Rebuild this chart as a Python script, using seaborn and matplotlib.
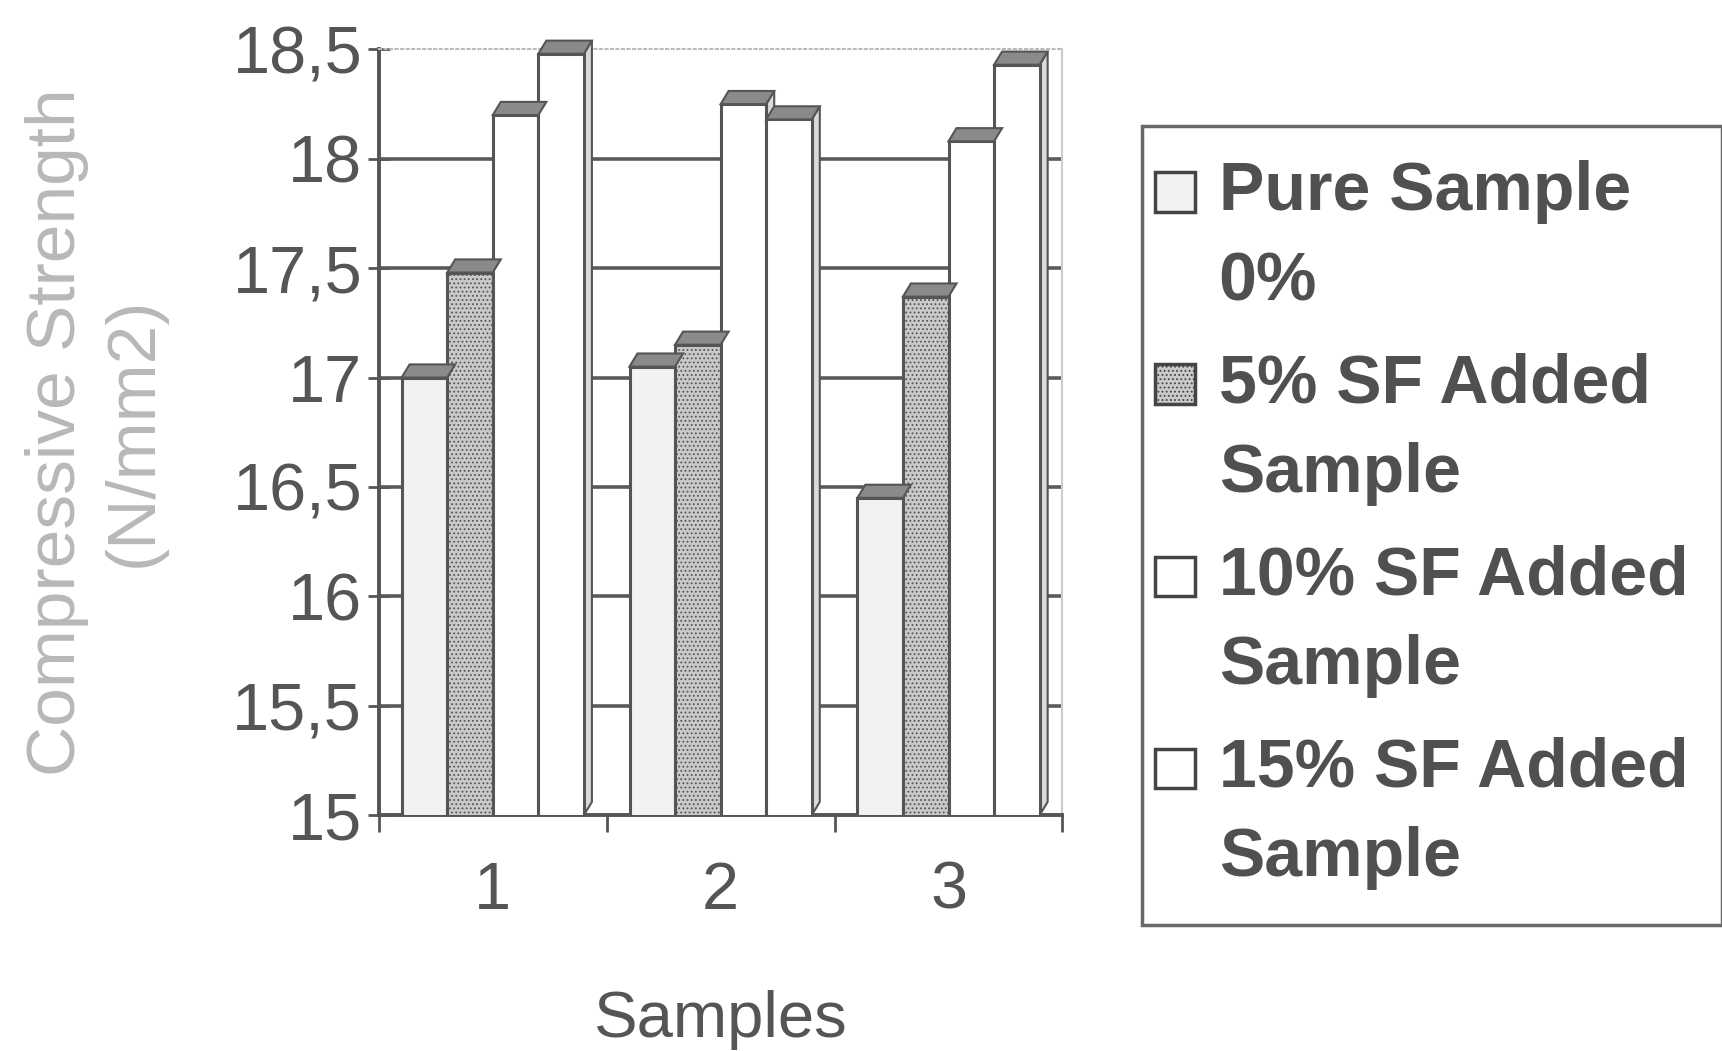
import matplotlib
matplotlib.use("Agg")
import matplotlib.pyplot as plt
import seaborn as sns
import pandas as pd
from matplotlib.patches import Polygon, Rectangle
from matplotlib.legend_handler import HandlerPatch
from matplotlib.ticker import FuncFormatter, FixedLocator

samples = ["1", "2", "3"]
series = ["Pure Sample\n0%", "5% SF Added\nSample", "10% SF Added\nSample", "15% SF Added\nSample"]
pure = [17.0, 17.05, 16.45]
sf5 = [17.48, 17.15, 17.37]
sf10 = [18.2, 18.25, 18.08]
sf15 = [18.48, 18.18, 18.43]
yticks = [15, 15.5, 16, 16.5, 17, 17.5, 18, 18.5]

values = [pure, sf5, sf10, sf15]
rows = []
for s, vals in zip(series, values):
    for c, v in zip(samples, vals):
        rows.append({"Sample": c, "Strength": v, "Series": s})
df = pd.DataFrame(rows)

sns.set_theme(style="white")
plt.rcParams["font.family"] = ["Liberation Sans", "DejaVu Sans"]
plt.rcParams["hatch.linewidth"] = 0.8

fig = plt.figure(figsize=(17.22, 10.51), dpi=100)
ax = fig.add_axes([0.22, 0.2245, 0.397, 0.7285])

face = ["#f2f2f2", "#c9c9c9", "#ffffff", "#ffffff"]
hatches = ["", "....", "", ""]
edge = "#555555"
sns.barplot(data=df, x="Sample", y="Strength", hue="Series", palette=face,
            edgecolor=edge, linewidth=2.2, width=0.8, ax=ax, zorder=3, legend=False)

nb = len(samples)
bars = list(ax.patches[: len(series) * nb])
for i, p in enumerate(bars):
    p.set_hatch(hatches[i // nb])

ax.set_ylim(15, 18.5)
ax.set_xlim(-0.5, 2.5)

# pseudo-3D caps and sides derived from the bar patches
dx, dy = 0.035, 0.06
for p in bars:
    x, w, top = p.get_x(), p.get_width(), p.get_height()
    topface = Polygon([(x, top), (x + w, top), (x + w + dx, top + dy), (x + dx, top + dy)],
                      closed=True, facecolor="#8a8a8a", edgecolor=edge, linewidth=1.5,
                      zorder=4, clip_on=False)
    side = Polygon([(x + w, 15), (x + w + dx, 15 + dy), (x + w + dx, top + dy), (x + w, top)],
                   closed=True, facecolor="#dadada", edgecolor=edge, linewidth=1.5,
                   zorder=2.9, clip_on=False)
    ax.add_patch(topface)
    ax.add_patch(side)

# grid
for yv in yticks[1:-1]:
    ax.axhline(yv, color="#5a5a5a", linewidth=2.6, zorder=1)

ax.yaxis.set_major_locator(FixedLocator(yticks))
ax.yaxis.set_major_formatter(FuncFormatter(lambda v, _: ("%g" % v).replace(".", ",")))
ax.tick_params(axis="y", direction="inout", length=16, width=2, color="#555555",
               labelsize=48, labelcolor="#555555", pad=4, left=True)
ax.set_xticks(range(len(samples)))
ax.set_xticklabels(samples)
ax.tick_params(axis="x", length=0, labelsize=48, labelcolor="#555555", pad=33)
ax.set_xticks([-0.5, 0.5, 1.5, 2.5], minor=True)
ax.tick_params(axis="x", which="minor", direction="out", length=12, width=2,
               color="#555555", bottom=True)

for side_name in ["left", "bottom"]:
    ax.spines[side_name].set_color("#555555")
    ax.spines[side_name].set_linewidth(2.8)
ax.spines["top"].set_color("#bbbbbb")
ax.spines["top"].set_linestyle(":")
ax.spines["top"].set_linewidth(1.5)
ax.spines["right"].set_color("#cccccc")
ax.spines["right"].set_linewidth(1.5)

ax.set_xlabel("Samples", fontsize=47, color="#555555", labelpad=48)
ax.set_ylabel("Compressive Strength\n(N/mm2)", fontsize=50, color="#b8b8b8",
              labelpad=48, linespacing=1.26)

# legend with square handles aligned to the first line of each label
def top_square(legend, orig_handle, xdescent, ydescent, width, height, fontsize):
    s = 0.58 * fontsize
    return Rectangle((-xdescent - 0.3 * fontsize, -ydescent + 0.74 * fontsize), s, s)

handles = [Rectangle((0, 0), 1, 1, facecolor=fc, edgecolor="#444444", linewidth=2.5, hatch=h)
           for fc, h in zip(face, hatches)]
leg = fig.legend(handles, series, loc="upper left", bbox_to_anchor=(0.663, 0.880),
                 frameon=True, fancybox=False, edgecolor="#444444", fontsize=49,
                 handlelength=0.55, handleheight=0.7, handletextpad=0.08,
                 labelspacing=0.56, borderpad=0.5, borderaxespad=0,
                 handler_map={h: HandlerPatch(patch_func=top_square) for h in handles})
leg.get_frame().set_linewidth(2.5)
for t in leg.get_texts():
    t.set_color("#505050")
    t.set_fontweight("bold")
    t.set_linespacing(1.52)

fig.savefig("out.png", dpi=100)
